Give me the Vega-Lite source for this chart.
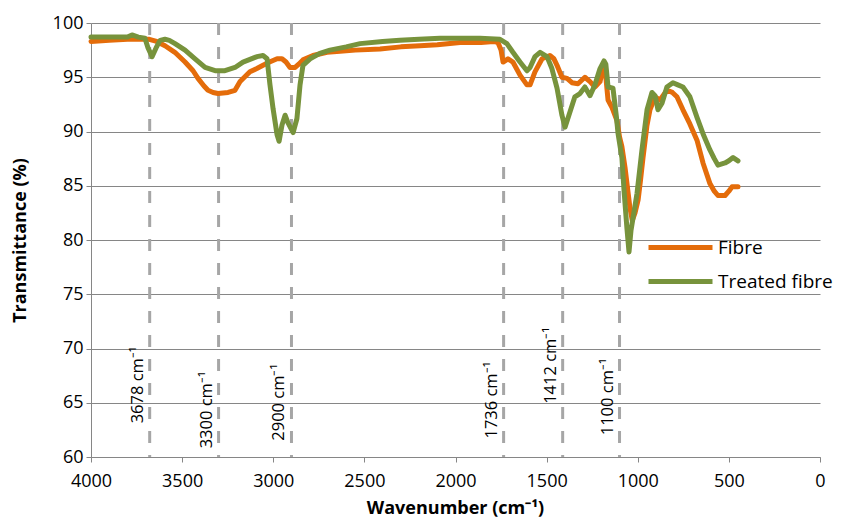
{
  "$schema": "https://vega.github.io/schema/vega-lite/v6.json",
  "width": 729,
  "height": 434,
  "autosize": "none",
  "padding": {"left": 91, "top": 23, "right": 22, "bottom": 63},
  "background": "white",
  "config": {
    "view": {"stroke": null},
    "font": "Open Sans",
    "axis": {
      "labelFont": "Open Sans",
      "titleFont": "Open Sans",
      "labelColor": "#000000",
      "titleColor": "#000000",
      "domainColor": "#868686",
      "tickColor": "#868686",
      "gridColor": "#868686",
      "gridWidth": 1,
      "domainWidth": 1,
      "tickWidth": 1,
      "tickSize": 5,
      "labelFontSize": 18,
      "titleFontSize": 18,
      "titleFontWeight": "bold"
    }
  },
  "layer": [
    {
      "data": {
        "values": [
          {"wn": 3678, "label_y": 63.1, "label": "3678 cm⁻¹"},
          {"wn": 3300, "label_y": 60.8, "label": "3300 cm⁻¹"},
          {"wn": 2900, "label_y": 61.5, "label": "2900 cm⁻¹"},
          {"wn": 1736, "label_y": 61.7, "label": "1736 cm⁻¹"},
          {"wn": 1412, "label_y": 64.9, "label": "1412 cm⁻¹"},
          {"wn": 1100, "label_y": 62.0, "label": "1100 cm⁻¹"}
        ]
      },
      "layer": [
        {
          "mark": {"type": "rule", "color": "#A6A6A6", "strokeWidth": 3, "strokeDash": [12, 12]},
          "encoding": {
            "x": {"field": "wn", "type": "quantitative", "scale": {"domain": [0, 4000], "reverse": true}},
            "y": {"datum": 100, "type": "quantitative"},
            "y2": {"datum": 60}
          }
        },
        {
          "mark": {"type": "text", "angle": 270, "align": "left", "baseline": "alphabetic", "dy": -7, "fontSize": 16.5, "color": "#000000", "font": "Open Sans"},
          "encoding": {
            "x": {"field": "wn", "type": "quantitative"},
            "y": {"field": "label_y", "type": "quantitative"},
            "text": {"field": "label"}
          }
        }
      ]
    },
    {
      "data": {
        "values": [
          {"series": "Fibre", "wn": 4000, "T": 98.3},
          {"series": "Fibre", "wn": 3900, "T": 98.4},
          {"series": "Fibre", "wn": 3800, "T": 98.5},
          {"series": "Fibre", "wn": 3720, "T": 98.5},
          {"series": "Fibre", "wn": 3680, "T": 98.5},
          {"series": "Fibre", "wn": 3640, "T": 98.3},
          {"series": "Fibre", "wn": 3594, "T": 97.9},
          {"series": "Fibre", "wn": 3540, "T": 97.3},
          {"series": "Fibre", "wn": 3484, "T": 96.4},
          {"series": "Fibre", "wn": 3440, "T": 95.6},
          {"series": "Fibre", "wn": 3413, "T": 94.9},
          {"series": "Fibre", "wn": 3380, "T": 94.2},
          {"series": "Fibre", "wn": 3358, "T": 93.8},
          {"series": "Fibre", "wn": 3330, "T": 93.6},
          {"series": "Fibre", "wn": 3303, "T": 93.5},
          {"series": "Fibre", "wn": 3248, "T": 93.6},
          {"series": "Fibre", "wn": 3210, "T": 93.8},
          {"series": "Fibre", "wn": 3182, "T": 94.6},
          {"series": "Fibre", "wn": 3128, "T": 95.5},
          {"series": "Fibre", "wn": 3090, "T": 95.8},
          {"series": "Fibre", "wn": 3056, "T": 96.1},
          {"series": "Fibre", "wn": 3020, "T": 96.4},
          {"series": "Fibre", "wn": 2979, "T": 96.7},
          {"series": "Fibre", "wn": 2952, "T": 96.7},
          {"series": "Fibre", "wn": 2930, "T": 96.4},
          {"series": "Fibre", "wn": 2908, "T": 95.9},
          {"series": "Fibre", "wn": 2880, "T": 95.9},
          {"series": "Fibre", "wn": 2860, "T": 96.2},
          {"series": "Fibre", "wn": 2837, "T": 96.6},
          {"series": "Fibre", "wn": 2782, "T": 97.0},
          {"series": "Fibre", "wn": 2705, "T": 97.3},
          {"series": "Fibre", "wn": 2634, "T": 97.4},
          {"series": "Fibre", "wn": 2550, "T": 97.5},
          {"series": "Fibre", "wn": 2414, "T": 97.6},
          {"series": "Fibre", "wn": 2300, "T": 97.8},
          {"series": "Fibre", "wn": 2195, "T": 97.9},
          {"series": "Fibre", "wn": 2100, "T": 98.0},
          {"series": "Fibre", "wn": 1975, "T": 98.2},
          {"series": "Fibre", "wn": 1860, "T": 98.2},
          {"series": "Fibre", "wn": 1790, "T": 98.3},
          {"series": "Fibre", "wn": 1767, "T": 98.2},
          {"series": "Fibre", "wn": 1750, "T": 97.5},
          {"series": "Fibre", "wn": 1739, "T": 96.4},
          {"series": "Fibre", "wn": 1712, "T": 96.7},
          {"series": "Fibre", "wn": 1685, "T": 96.4},
          {"series": "Fibre", "wn": 1646, "T": 95.2},
          {"series": "Fibre", "wn": 1608, "T": 94.3},
          {"series": "Fibre", "wn": 1591, "T": 94.3},
          {"series": "Fibre", "wn": 1564, "T": 95.5},
          {"series": "Fibre", "wn": 1525, "T": 96.7},
          {"series": "Fibre", "wn": 1482, "T": 97.0},
          {"series": "Fibre", "wn": 1460, "T": 96.7},
          {"series": "Fibre", "wn": 1443, "T": 96.1},
          {"series": "Fibre", "wn": 1416, "T": 95.0},
          {"series": "Fibre", "wn": 1388, "T": 94.9},
          {"series": "Fibre", "wn": 1361, "T": 94.5},
          {"series": "Fibre", "wn": 1328, "T": 94.4},
          {"series": "Fibre", "wn": 1290, "T": 95.0},
          {"series": "Fibre", "wn": 1262, "T": 94.6},
          {"series": "Fibre", "wn": 1235, "T": 94.1},
          {"series": "Fibre", "wn": 1207, "T": 94.6},
          {"series": "Fibre", "wn": 1190, "T": 95.9},
          {"series": "Fibre", "wn": 1175, "T": 95.0},
          {"series": "Fibre", "wn": 1163, "T": 92.9},
          {"series": "Fibre", "wn": 1141, "T": 92.2},
          {"series": "Fibre", "wn": 1114, "T": 91.0},
          {"series": "Fibre", "wn": 1100, "T": 89.5},
          {"series": "Fibre", "wn": 1087, "T": 88.6},
          {"series": "Fibre", "wn": 1070, "T": 86.7},
          {"series": "Fibre", "wn": 1043, "T": 83.0},
          {"series": "Fibre", "wn": 1030, "T": 81.8},
          {"series": "Fibre", "wn": 1015, "T": 82.5},
          {"series": "Fibre", "wn": 998, "T": 83.7},
          {"series": "Fibre", "wn": 985, "T": 85.5},
          {"series": "Fibre", "wn": 971, "T": 87.6},
          {"series": "Fibre", "wn": 950, "T": 90.5},
          {"series": "Fibre", "wn": 933, "T": 92.0},
          {"series": "Fibre", "wn": 905, "T": 93.2},
          {"series": "Fibre", "wn": 878, "T": 92.9},
          {"series": "Fibre", "wn": 840, "T": 93.8},
          {"series": "Fibre", "wn": 810, "T": 93.6},
          {"series": "Fibre", "wn": 785, "T": 93.2},
          {"series": "Fibre", "wn": 752, "T": 92.0},
          {"series": "Fibre", "wn": 714, "T": 90.7},
          {"series": "Fibre", "wn": 675, "T": 89.2},
          {"series": "Fibre", "wn": 642, "T": 87.1},
          {"series": "Fibre", "wn": 604, "T": 85.2},
          {"series": "Fibre", "wn": 580, "T": 84.5},
          {"series": "Fibre", "wn": 560, "T": 84.1},
          {"series": "Fibre", "wn": 521, "T": 84.1},
          {"series": "Fibre", "wn": 500, "T": 84.5},
          {"series": "Fibre", "wn": 483, "T": 84.9},
          {"series": "Fibre", "wn": 450, "T": 84.9},
          {"series": "Treated fibre", "wn": 4000, "T": 98.7},
          {"series": "Treated fibre", "wn": 3900, "T": 98.7},
          {"series": "Treated fibre", "wn": 3800, "T": 98.7},
          {"series": "Treated fibre", "wn": 3775, "T": 98.9},
          {"series": "Treated fibre", "wn": 3740, "T": 98.7},
          {"series": "Treated fibre", "wn": 3704, "T": 98.6},
          {"series": "Treated fibre", "wn": 3687, "T": 97.7},
          {"series": "Treated fibre", "wn": 3665, "T": 96.9},
          {"series": "Treated fibre", "wn": 3643, "T": 97.7},
          {"series": "Treated fibre", "wn": 3621, "T": 98.4},
          {"series": "Treated fibre", "wn": 3594, "T": 98.5},
          {"series": "Treated fibre", "wn": 3570, "T": 98.4},
          {"series": "Treated fibre", "wn": 3539, "T": 98.1},
          {"series": "Treated fibre", "wn": 3484, "T": 97.5},
          {"series": "Treated fibre", "wn": 3429, "T": 96.7},
          {"series": "Treated fibre", "wn": 3374, "T": 95.9},
          {"series": "Treated fibre", "wn": 3319, "T": 95.6},
          {"series": "Treated fibre", "wn": 3265, "T": 95.6},
          {"series": "Treated fibre", "wn": 3210, "T": 95.9},
          {"series": "Treated fibre", "wn": 3166, "T": 96.4},
          {"series": "Treated fibre", "wn": 3089, "T": 96.9},
          {"series": "Treated fibre", "wn": 3056, "T": 97.0},
          {"series": "Treated fibre", "wn": 3034, "T": 96.7},
          {"series": "Treated fibre", "wn": 3018, "T": 94.3},
          {"series": "Treated fibre", "wn": 3001, "T": 92.1},
          {"series": "Treated fibre", "wn": 2979, "T": 89.7},
          {"series": "Treated fibre", "wn": 2968, "T": 89.1},
          {"series": "Treated fibre", "wn": 2952, "T": 90.6},
          {"series": "Treated fibre", "wn": 2935, "T": 91.5},
          {"series": "Treated fibre", "wn": 2919, "T": 90.8},
          {"series": "Treated fibre", "wn": 2891, "T": 89.9},
          {"series": "Treated fibre", "wn": 2870, "T": 91.2},
          {"series": "Treated fibre", "wn": 2853, "T": 94.3},
          {"series": "Treated fibre", "wn": 2837, "T": 96.1},
          {"series": "Treated fibre", "wn": 2798, "T": 96.7},
          {"series": "Treated fibre", "wn": 2744, "T": 97.2},
          {"series": "Treated fibre", "wn": 2689, "T": 97.5},
          {"series": "Treated fibre", "wn": 2600, "T": 97.8},
          {"series": "Treated fibre", "wn": 2524, "T": 98.1},
          {"series": "Treated fibre", "wn": 2400, "T": 98.3},
          {"series": "Treated fibre", "wn": 2305, "T": 98.4},
          {"series": "Treated fibre", "wn": 2200, "T": 98.5},
          {"series": "Treated fibre", "wn": 2085, "T": 98.6},
          {"series": "Treated fibre", "wn": 1975, "T": 98.6},
          {"series": "Treated fibre", "wn": 1866, "T": 98.6},
          {"series": "Treated fibre", "wn": 1756, "T": 98.5},
          {"series": "Treated fibre", "wn": 1718, "T": 98.1},
          {"series": "Treated fibre", "wn": 1685, "T": 97.3},
          {"series": "Treated fibre", "wn": 1646, "T": 96.4},
          {"series": "Treated fibre", "wn": 1608, "T": 95.6},
          {"series": "Treated fibre", "wn": 1591, "T": 95.9},
          {"series": "Treated fibre", "wn": 1564, "T": 96.9},
          {"series": "Treated fibre", "wn": 1536, "T": 97.3},
          {"series": "Treated fibre", "wn": 1498, "T": 96.9},
          {"series": "Treated fibre", "wn": 1471, "T": 95.8},
          {"series": "Treated fibre", "wn": 1443, "T": 94.0},
          {"series": "Treated fibre", "wn": 1416, "T": 91.5},
          {"series": "Treated fibre", "wn": 1399, "T": 90.4},
          {"series": "Treated fibre", "wn": 1372, "T": 91.8},
          {"series": "Treated fibre", "wn": 1345, "T": 93.2},
          {"series": "Treated fibre", "wn": 1317, "T": 93.5},
          {"series": "Treated fibre", "wn": 1290, "T": 94.1},
          {"series": "Treated fibre", "wn": 1262, "T": 93.3},
          {"series": "Treated fibre", "wn": 1235, "T": 94.3},
          {"series": "Treated fibre", "wn": 1207, "T": 95.8},
          {"series": "Treated fibre", "wn": 1185, "T": 96.5},
          {"series": "Treated fibre", "wn": 1175, "T": 96.2},
          {"series": "Treated fibre", "wn": 1163, "T": 94.1},
          {"series": "Treated fibre", "wn": 1136, "T": 94.0},
          {"series": "Treated fibre", "wn": 1118, "T": 91.5},
          {"series": "Treated fibre", "wn": 1108, "T": 89.8},
          {"series": "Treated fibre", "wn": 1087, "T": 87.6},
          {"series": "Treated fibre", "wn": 1075, "T": 84.5},
          {"series": "Treated fibre", "wn": 1059, "T": 81.0},
          {"series": "Treated fibre", "wn": 1048, "T": 78.9},
          {"series": "Treated fibre", "wn": 1037, "T": 80.9},
          {"series": "Treated fibre", "wn": 1004, "T": 84.3},
          {"series": "Treated fibre", "wn": 977, "T": 88.3},
          {"series": "Treated fibre", "wn": 949, "T": 92.0},
          {"series": "Treated fibre", "wn": 922, "T": 93.6},
          {"series": "Treated fibre", "wn": 905, "T": 93.3},
          {"series": "Treated fibre", "wn": 889, "T": 92.0},
          {"series": "Treated fibre", "wn": 867, "T": 92.6},
          {"series": "Treated fibre", "wn": 840, "T": 94.1},
          {"series": "Treated fibre", "wn": 807, "T": 94.5},
          {"series": "Treated fibre", "wn": 780, "T": 94.3},
          {"series": "Treated fibre", "wn": 752, "T": 94.1},
          {"series": "Treated fibre", "wn": 714, "T": 93.2},
          {"series": "Treated fibre", "wn": 675, "T": 91.3},
          {"series": "Treated fibre", "wn": 642, "T": 89.8},
          {"series": "Treated fibre", "wn": 604, "T": 88.3},
          {"series": "Treated fibre", "wn": 580, "T": 87.5},
          {"series": "Treated fibre", "wn": 560, "T": 86.9},
          {"series": "Treated fibre", "wn": 521, "T": 87.1},
          {"series": "Treated fibre", "wn": 500, "T": 87.3},
          {"series": "Treated fibre", "wn": 477, "T": 87.6},
          {"series": "Treated fibre", "wn": 450, "T": 87.3}
        ]
      },
      "mark": {"type": "line", "strokeWidth": 5, "strokeJoin": "round", "strokeCap": "round"},
      "encoding": {
        "x": {
          "field": "wn",
          "type": "quantitative",
          "scale": {"domain": [0, 4000], "reverse": true},
          "axis": {
            "title": "Wavenumber (cm⁻¹)",
            "values": [4000, 3500, 3000, 2500, 2000, 1500, 1000, 500, 0],
            "format": "d",
            "grid": false,
            "labelPadding": 10,
            "labelFlush": false,
            "titleX": 364,
            "titleY": 51,
            "titleBaseline": "middle",
            "titleAlign": "center"
          }
        },
        "y": {
          "field": "T",
          "type": "quantitative",
          "scale": {"domain": [60, 100], "zero": false, "nice": false},
          "axis": {
            "title": "Transmittance (%)",
            "values": [60, 65, 70, 75, 80, 85, 90, 95, 100],
            "grid": true,
            "labelPadding": 3,
            "titleX": -71,
            "titleY": 217,
            "titleAngle": 270,
            "titleBaseline": "middle",
            "titleAlign": "center"
          }
        },
        "color": {
          "field": "series",
          "type": "nominal",
          "scale": {"domain": ["Fibre", "Treated fibre"], "range": ["#E46C0A", "#77933C"]},
          "legend": {
            "title": null,
            "orient": "none",
            "legendX": 571,
            "legendY": 206,
            "symbolType": "M-2,0H2",
            "symbolSize": 1024,
            "symbolStrokeWidth": 5,
            "labelFontSize": 19,
            "labelFont": "Open Sans",
            "labelColor": "#000000",
            "labelOffset": 19,
            "rowPadding": 5
          }
        }
      }
    }
  ]
}
